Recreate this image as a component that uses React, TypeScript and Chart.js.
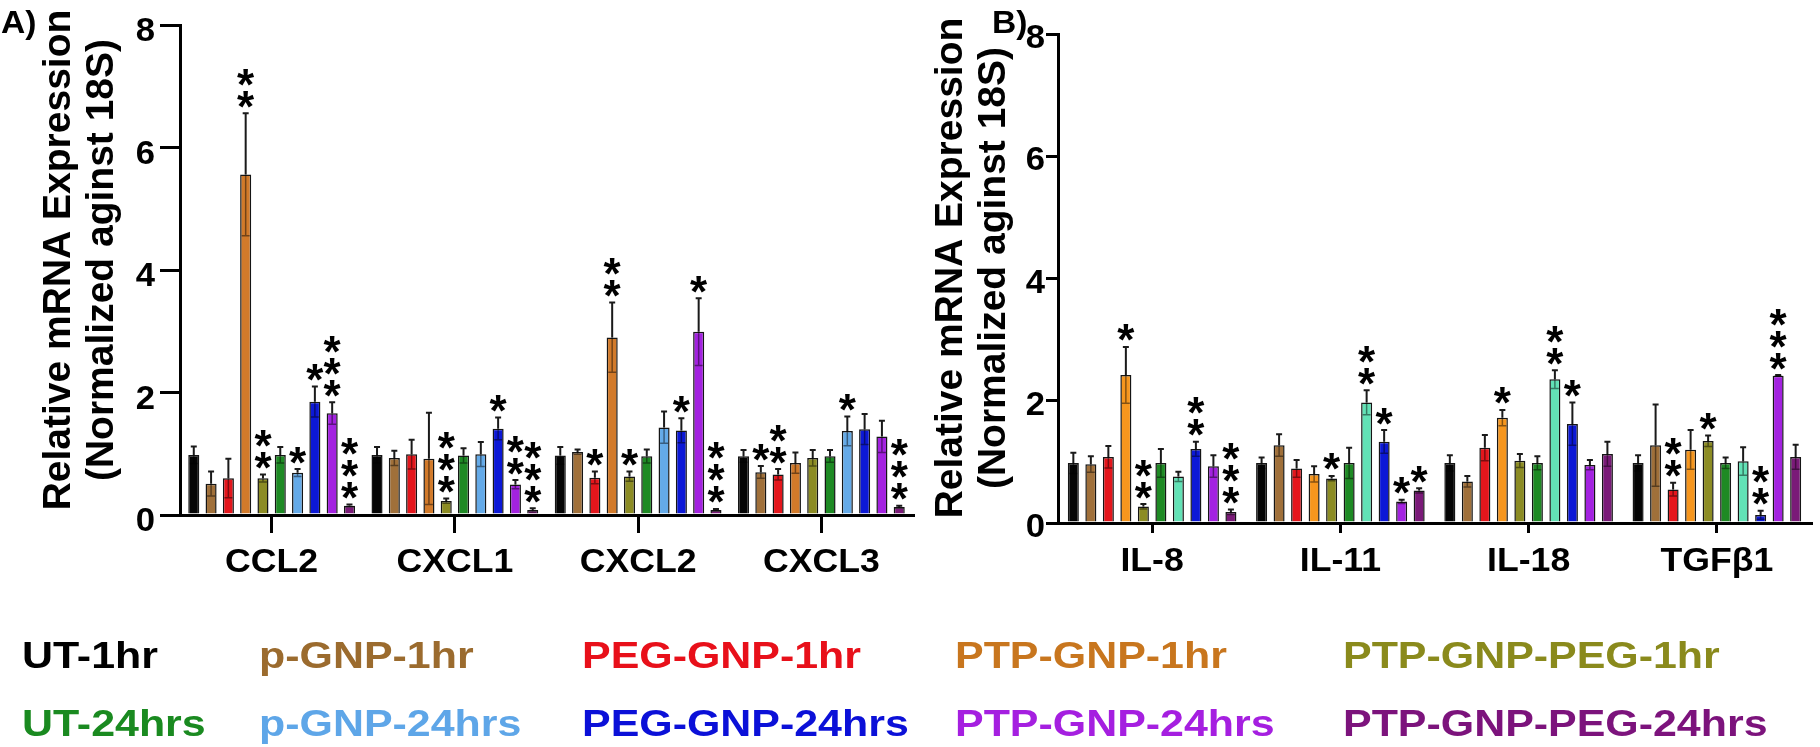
import React, { useEffect, useRef } from "react";
import { Chart, registerables } from "chart.js";
Chart.register(...registerables);

// ---------- data ----------
const seriesNames = [
  "UT-1hr", "p-GNP-1hr", "PEG-GNP-1hr", "PTP-GNP-1hr", "PTP-GNP-PEG-1hr",
  "UT-24hrs", "p-GNP-24hrs", "PEG-GNP-24hrs", "PTP-GNP-24hrs", "PTP-GNP-PEG-24hrs",
];
const categoriesA = ["CCL2", "CXCL1", "CXCL2", "CXCL3"];
const categoriesB = ["IL-8", "IL-11", "IL-18", "TGFβ1"];
const yTickValues = [0, 2, 4, 6, 8];

const ccl2Mean = [0.98, 0.51, 0.60, 5.56, 0.60, 0.98, 0.69, 1.85, 1.66, 0.15];
const ccl2Err = [0.14, 0.20, 0.32, 1.00, 0.06, 0.13, 0.06, 0.25, 0.18, 0.02];
const ccl2Stars = [0, 0, 0, 2, 2, 0, 1, 1, 3, 3];

const cxcl1Mean = [0.98, 0.93, 0.99, 0.92, 0.23, 0.97, 0.99, 1.41, 0.50, 0.08];
const cxcl1Err = [0.13, 0.12, 0.24, 0.75, 0.04, 0.12, 0.20, 0.18, 0.07, 0.03];
const cxcl1Stars = [0, 0, 0, 0, 3, 0, 0, 1, 2, 3];

const cxcl2Mean = [0.97, 1.03, 0.61, 2.90, 0.63, 0.96, 1.43, 1.38, 2.99, 0.08];
const cxcl2Err = [0.14, 0.04, 0.10, 0.57, 0.08, 0.11, 0.26, 0.20, 0.55, 0.02];
const cxcl2Stars = [0, 0, 1, 2, 1, 0, 0, 1, 1, 3];

const cxcl3Mean = [0.96, 0.70, 0.66, 0.85, 0.93, 0.96, 1.37, 1.40, 1.28, 0.13];
const cxcl3Err = [0.10, 0.10, 0.09, 0.17, 0.13, 0.10, 0.24, 0.25, 0.26, 0.02];
const cxcl3Stars = [0, 1, 2, 0, 0, 0, 1, 0, 0, 3];

const il8Mean = [0.98, 0.96, 1.08, 2.42, 0.27, 0.98, 0.76, 1.21, 0.93, 0.18];
const il8Err = [0.17, 0.13, 0.18, 0.46, 0.04, 0.23, 0.08, 0.12, 0.18, 0.04];
const il8Stars = [0, 0, 0, 1, 2, 0, 0, 2, 0, 3];

const il11Mean = [0.98, 1.27, 0.89, 0.80, 0.73, 0.98, 1.97, 1.33, 0.35, 0.53];
const il11Err = [0.09, 0.18, 0.14, 0.13, 0.04, 0.25, 0.20, 0.19, 0.03, 0.04];
const il11Stars = [0, 0, 0, 0, 1, 0, 2, 1, 1, 1];

const il18Mean = [0.98, 0.68, 1.23, 1.72, 1.02, 0.98, 2.35, 1.62, 0.95, 1.13];
const il18Err = [0.13, 0.09, 0.21, 0.13, 0.11, 0.11, 0.15, 0.35, 0.08, 0.20];
const il18Stars = [0, 0, 0, 1, 0, 0, 2, 1, 0, 0];

const tgfb1Mean = [0.98, 1.27, 0.55, 1.20, 1.34, 0.98, 1.01, 0.13, 2.41, 1.08];
const tgfb1Err = [0.13, 0.67, 0.11, 0.32, 0.09, 0.09, 0.23, 0.07, 0.01, 0.20];
const tgfb1Stars = [0, 0, 2, 0, 1, 0, 0, 2, 3, 0];

// ---------- styles ----------
const colorsA = ["#050505", "#a0703a", "#e4161c", "#d27a2a", "#8c8c24", "#1e8a24", "#64aae8", "#0c18d6", "#a322e0", "#7a1a78"];
const colorsB = ["#050505", "#a0703a", "#e4161c", "#f6961e", "#8c8c24", "#1e8a24", "#62e2b6", "#0c18d6", "#a322e0", "#7a1a78"];
const legendColors = ["#000000", "#9b6b2e", "#e8101a", "#c8761e", "#8a8a1c", "#1a8a20", "#5ea6e8", "#0b10d8", "#a51fe0", "#7c137c"];
const FONT = '"Liberation Sans", Arial, Helvetica, sans-serif';

function txt(ctx: CanvasRenderingContext2D, s: string, x: number, y: number, size: number, color: string, align: CanvasTextAlign, sx = 1, rot = 0) {
  ctx.save();
  ctx.font = `bold ${size}px ${FONT}`;
  ctx.fillStyle = color;
  ctx.textAlign = align;
  ctx.textBaseline = "alphabetic";
  ctx.translate(x, y);
  if (rot) ctx.rotate(rot);
  ctx.scale(sx, 1);
  ctx.fillText(s, 0, 0);
  ctx.restore();
}

type Panel = {
  categories: string[];
  means: number[][];
  errs: number[][];
  stars: number[][];
  colors: string[];
  padding: { left: number; top: number; right: number; bottom: number };
  yWidth: number;
  xHeight: number;
  xTickLen: number;
  yTickLen: number;
  catPct: number;
  barPct: number;
  tickLabelGap: number;
  tickBaseOff: number;
  catBaseline: number;
  titleX1: number;
  titleX2: number;
  titleCY: number;
  extra?: (ctx: CanvasRenderingContext2D) => void;
};

function makeChart(canvas: HTMLCanvasElement, p: Panel) {
  const datasets = seriesNames.map((name, i) => ({
    label: name,
    data: p.means.map((m) => m[i]),
    backgroundColor: p.colors[i],
    borderColor: "#151515",
    borderWidth: 1.5,
    categoryPercentage: p.catPct,
    barPercentage: p.barPct,
  }));

  const decor = {
    id: "decor",
    afterDatasetsDraw(chart: any) {
      const ctx: CanvasRenderingContext2D = chart.ctx;
      const ys = chart.scales.y;
      chart.data.datasets.forEach((_: any, i: number) => {
        const meta = chart.getDatasetMeta(i);
        meta.data.forEach((bar: any, j: number) => {
          const v = p.means[j][i];
          const e = p.errs[j][i];
          const x = bar.x;
          const yHi = ys.getPixelForValue(v + e);
          const yV = ys.getPixelForValue(v);
          const yLo = ys.getPixelForValue(Math.max(0, v - e));
          ctx.save();
          ctx.lineWidth = 2;
          ctx.strokeStyle = "#1a1a1a";
          ctx.beginPath();
          ctx.moveTo(x, yV);
          ctx.lineTo(x, yHi);
          ctx.moveTo(x - 3, yHi);
          ctx.lineTo(x + 3, yHi);
          ctx.stroke();
          ctx.strokeStyle = "rgba(0,0,0,0.45)";
          ctx.lineWidth = 1.5;
          ctx.beginPath();
          ctx.moveTo(x, yV);
          ctx.lineTo(x, yLo);
          ctx.moveTo(x - 4, yLo);
          ctx.lineTo(x + 4, yLo);
          ctx.stroke();
          ctx.restore();

          const n = p.stars[j][i];
          if (n > 0) {
            ctx.save();
            ctx.font = `bold 44px ${FONT}`;
            ctx.fillStyle = "#000";
            ctx.textAlign = "center";
            ctx.textBaseline = "alphabetic";
            const mt = ctx.measureText("*");
            const asc = mt.actualBoundingBoxAscent;
            const desc = mt.actualBoundingBoxDescent;
            for (let k = 0; k < n; k++) {
              const cy = yHi - 14 - k * 22;
              const base = cy - (desc - asc) / 2;
              ctx.fillText("*", x, base);
            }
            ctx.restore();
          }
        });
      });
    },
    afterDraw(chart: any) {
      const ctx: CanvasRenderingContext2D = chart.ctx;
      const ys = chart.scales.y;
      const xs = chart.scales.x;
      const area = chart.chartArea;
      yTickValues.forEach((t) => {
        txt(ctx, String(t), area.left - p.tickLabelGap, ys.getPixelForValue(t) + p.tickBaseOff, 33, "#000", "right", 1.05);
      });
      p.categories.forEach((c, k) => {
        txt(ctx, c, xs.getPixelForValue(k), p.catBaseline, 33, "#000", "center", 1.08);
      });
      txt(ctx, "Relative mRNA Expression", p.titleX1, p.titleCY, 39, "#000", "center", 1, -Math.PI / 2);
      txt(ctx, "(Normalized aginst 18S)", p.titleX2, p.titleCY, 39, "#000", "center", 1, -Math.PI / 2);
      if (p.extra) p.extra(ctx);
    },
  };

  return new Chart(canvas, {
    type: "bar",
    data: { labels: p.categories, datasets },
    options: {
      animation: false,
      responsive: false,
      maintainAspectRatio: false,
      devicePixelRatio: 1,
      layout: { padding: p.padding },
      plugins: { legend: { display: false }, tooltip: { enabled: false }, title: { display: false } },
      scales: {
        x: {
          type: "category",
          offset: true,
          grid: {
            offset: false,
            drawOnChartArea: false,
            drawTicks: true,
            tickLength: p.xTickLen,
            tickWidth: 3,
            tickColor: "#000",
            color: "#000",
            lineWidth: 3,
          },
          border: { display: true, color: "#000", width: 3 },
          ticks: { display: false },
          afterFit: (s: any) => {
            s.height = p.xHeight;
          },
        },
        y: {
          type: "linear",
          min: 0,
          max: 8,
          ticks: { display: false, stepSize: 2 },
          grid: {
            drawOnChartArea: false,
            drawTicks: true,
            tickLength: p.yTickLen,
            tickWidth: 3,
            tickColor: "#000",
            color: "#000",
            lineWidth: 3,
          },
          border: { display: true, color: "#000", width: 3 },
          afterFit: (s: any) => {
            s.width = p.yWidth;
          },
        },
      },
    } as any,
    plugins: [decor as any],
  });
}

const legendCols = [22, 259, 582, 955, 1343];
const legendRows = [668, 736];

export default function App() {
  const refA = useRef<HTMLCanvasElement>(null);
  const refB = useRef<HTMLCanvasElement>(null);

  useEffect(() => {
    const drawLegend = (ctx: CanvasRenderingContext2D) => {
      txt(ctx, "A)", 1, 33, 32, "#000", "left", 1.05);
      txt(ctx, "B)", 992, 33, 32, "#000", "left", 1.05);
      seriesNames.forEach((name, i) => {
        const col = i % 5;
        const row = Math.floor(i / 5);
        txt(ctx, name, legendCols[col], legendRows[row], 37, legendColors[i], "left", 1.16);
      });
    };

    const chartA = makeChart(refA.current!, {
      categories: categoriesA,
      means: [ccl2Mean, cxcl1Mean, cxcl2Mean, cxcl3Mean],
      errs: [ccl2Err, cxcl1Err, cxcl2Err, cxcl3Err],
      stars: [ccl2Stars, cxcl1Stars, cxcl2Stars, cxcl3Stars],
      colors: colorsA,
      padding: { left: 0, top: 25, right: 1820 - 913, bottom: 147 },
      yWidth: 180,
      xHeight: 85,
      xTickLen: 18,
      yTickLen: 20,
      catPct: 0.944,
      barPct: 0.64,
      tickLabelGap: 25,
      tickBaseOff: 16,
      catBaseline: 572,
      titleX1: 70,
      titleX2: 113,
      titleCY: 260,
      extra: drawLegend,
    });

    const chartB = makeChart(refB.current!, {
      categories: categoriesB,
      means: [il8Mean, il11Mean, il18Mean, tgfb1Mean],
      errs: [il8Err, il11Err, il18Err, tgfb1Err],
      stars: [il8Stars, il11Stars, il18Stars, tgfb1Stars],
      colors: colorsB,
      padding: { left: 0, top: 34, right: 9, bottom: 0 },
      yWidth: 138,
      xHeight: 77,
      xTickLen: 10,
      yTickLen: 12,
      catPct: 0.93,
      barPct: 0.63,
      tickLabelGap: 13,
      tickBaseOff: 14,
      catBaseline: 571,
      titleX1: 962 - 920,
      titleX2: 1005 - 920,
      titleCY: 268,
    });

    return () => {
      chartA.destroy();
      chartB.destroy();
    };
  }, []);

  return (
    <div style={{ position: "fixed", left: 0, top: 0, width: 1820, height: 747, background: "#fff", overflow: "hidden" }}>
      <canvas ref={refA} width={1820} height={747} style={{ position: "absolute", left: 0, top: 0, width: 1820, height: 747 }} />
      <canvas ref={refB} width={900} height={600} style={{ position: "absolute", left: 920, top: 0, width: 900, height: 600 }} />
    </div>
  );
}
